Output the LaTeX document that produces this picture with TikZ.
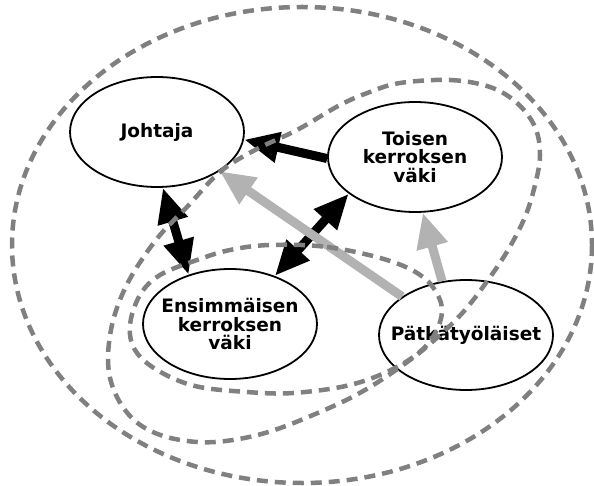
\documentclass[tikz,border=0pt]{standalone}
\usepackage{fontspec}
\setmainfont{DejaVu Sans}
\usetikzlibrary{arrows.meta,shapes.geometric}
\definecolor{dashgray}{HTML}{808080}
\definecolor{arrgray}{HTML}{B2B2B2}
\begin{document}
\begin{tikzpicture}[x=1pt,y=-1pt,
  ell/.style={draw=black, fill=white, line width=1.8pt, ellipse, minimum width=174pt, minimum height=110pt, inner sep=0pt},
  lbl/.style={font=\bfseries\fontsize{18.5}{18.8}\selectfont, align=center, inner sep=0pt},
  blk/.style={line width=9pt, black, -{Triangle[length=35pt,width=29pt]}},
  blkboth/.style={line width=9pt, black, {Triangle[length=35pt,width=29pt]}-{Triangle[length=35pt,width=29pt]}},
  gry/.style={line width=9pt, arrgray, -{Triangle[length=35pt,width=30pt]}},
  dsh/.style={dashgray, line width=4.5pt, dash pattern=on 11pt off 7pt},
]
\useasboundingbox (0,0) rectangle (594,486);
\fill[white] (0,0) rectangle (594,486);

\node[ell] (johtaja) at (157,132) {};
\node[ell] (toisen) at (415,157) {};
\node[ell] (ensim) at (230,324) {};
\node[ell] (patka) at (466,335) {};

\node[lbl] (johtajat) at (johtaja) {Johtaja};
\node[lbl] (toisent) at (toisen) {Toisen\\kerroksen\\väki};
\node[lbl] (ensimt) at (ensim) {Ensimmäisen\\kerroksen\\väki};
\node[lbl] (patkat) at (patka) {Pätkätyöläiset};

\draw[blk] (toisen.181) -- (johtaja.-5);
\draw[blkboth] (johtaja.-84) -- (ensim.130);
\draw[blkboth] (toisen.209) -- (ensim.47);
\draw[gry] (patka.149) -- (johtaja.-32);
\draw[gry] (patka.114) -- (toisen.-82);

\draw[dsh] (302,245) ellipse [x radius=290, y radius=238];
\draw[dsh] plot[smooth cycle, tension=0.6] coordinates {
 (400,83) (450,80) (490,87) (517,103) (535,127) (540,155) (535,185) (525,217)
 (508,250) (488,280) (465,310) (440,335) (410,360) (365,390) (320,412) (265,433)
 (215,442) (175,439) (145,428) (125,410) (112,385) (108,358) (112,325) (122,295)
 (137,267) (160,235) (187,207) (220,172) (255,150) (297,130) (340,105) (370,92)};
\draw[dsh] plot[smooth cycle, tension=0.6] coordinates {
 (270,245) (327,247) (387,260) (423,277) (440,300) (440,322) (425,347) (395,368)
 (350,385) (293,393) (247,392) (195,386) (157,370) (135,350) (130,325) (140,295)
 (160,275) (197,260) (230,250)};
\end{tikzpicture}
\end{document}
